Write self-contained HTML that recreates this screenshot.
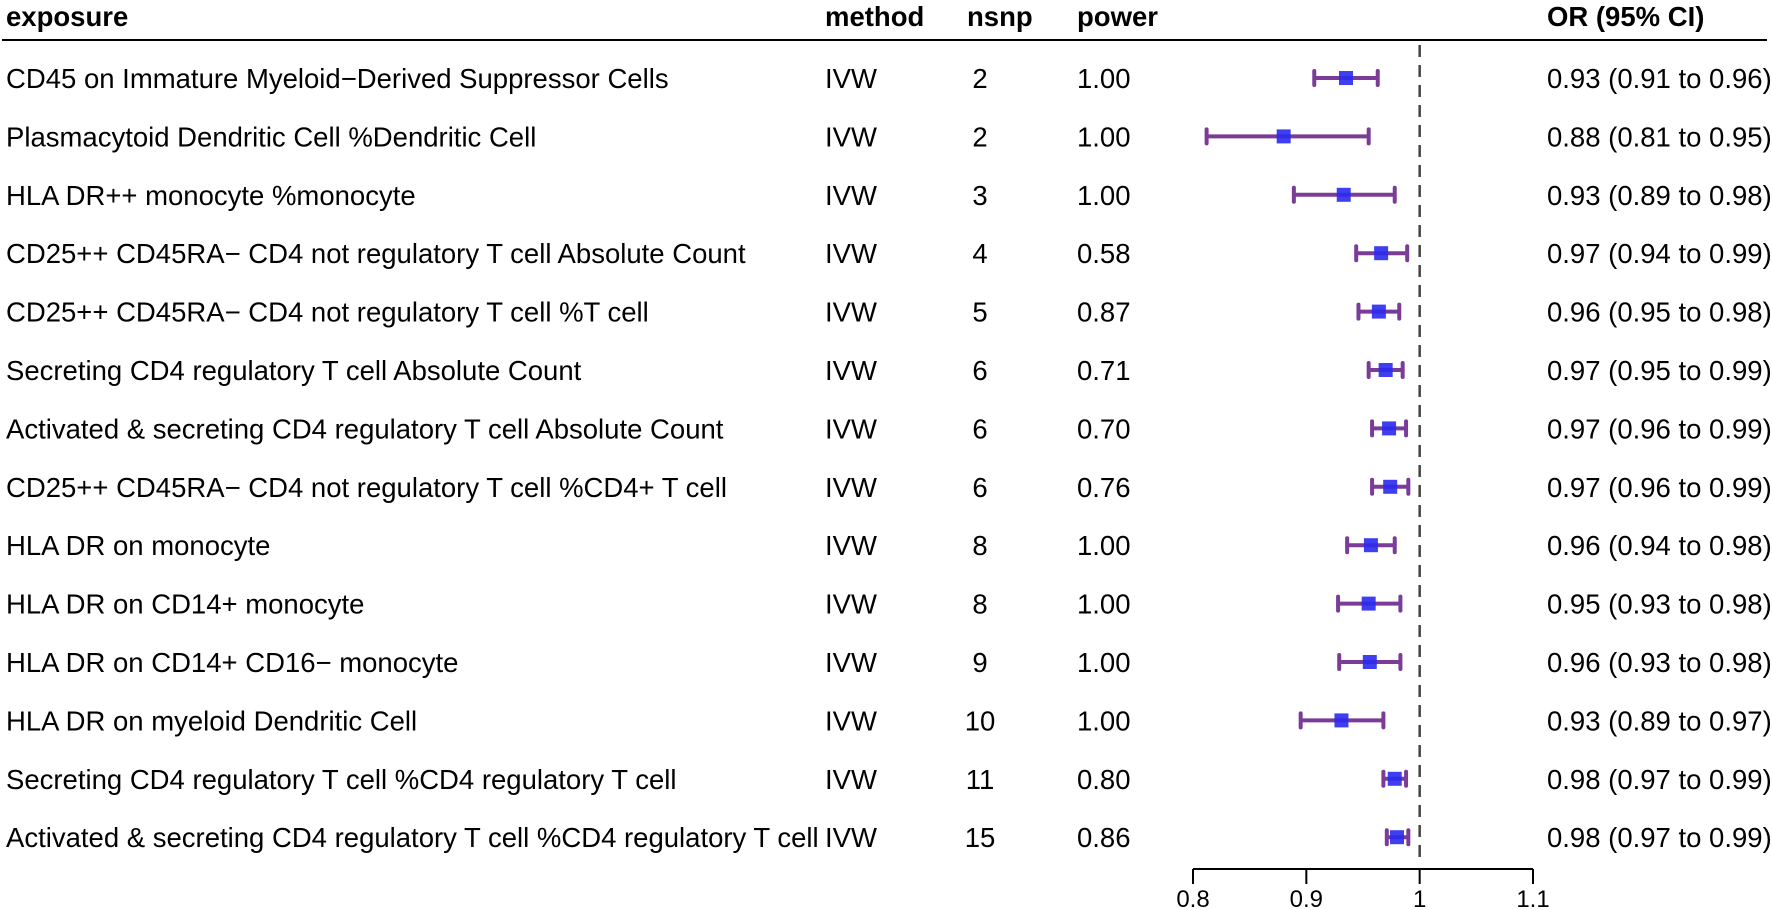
<!DOCTYPE html>
<html><head><meta charset="utf-8"><style>
body{margin:0;background:#fff;}
svg{display:block;font-family:"Liberation Sans",Arial,sans-serif;}
</style></head><body>
<svg id="chart" width="1772" height="910" viewBox="0 0 1772 910" xmlns="http://www.w3.org/2000/svg">
<g font-size="27.5" font-weight="bold" fill="#000">
<text x="6" y="26">exposure</text>
<text x="825" y="26">method</text>
<text x="967" y="26">nsnp</text>
<text x="1077" y="26">power</text>
<text x="1547" y="26">OR (95% CI)</text>
</g>
<line x1="2" y1="40" x2="1767" y2="40" stroke="#000" stroke-width="2"/>
<g id="rows"></g>
<g id="marks"></g>
<g id="axis"></g>
</svg>
<script>
const exposures=["CD45 on Immature Myeloid\u2212Derived Suppressor Cells","Plasmacytoid Dendritic Cell %Dendritic Cell","HLA DR++ monocyte %monocyte","CD25++ CD45RA\u2212 CD4 not regulatory T cell Absolute Count","CD25++ CD45RA\u2212 CD4 not regulatory T cell %T cell","Secreting CD4 regulatory T cell Absolute Count","Activated & secreting CD4 regulatory T cell Absolute Count","CD25++ CD45RA\u2212 CD4 not regulatory T cell %CD4+ T cell","HLA DR on monocyte","HLA DR on CD14+ monocyte","HLA DR on CD14+ CD16\u2212 monocyte","HLA DR on myeloid Dendritic Cell","Secreting CD4 regulatory T cell %CD4 regulatory T cell","Activated & secreting CD4 regulatory T cell %CD4 regulatory T cell"];
const nsnp=[2,2,3,4,5,6,6,6,8,8,9,10,11,15];
const power=["1.00","1.00","1.00","0.58","0.87","0.71","0.70","0.76","1.00","1.00","1.00","1.00","0.80","0.86"];
const orVal=[0.935,0.880,0.933,0.966,0.964,0.970,0.973,0.974,0.957,0.955,0.956,0.931,0.978,0.980];
const lower=[0.907,0.812,0.889,0.944,0.946,0.955,0.958,0.958,0.936,0.928,0.929,0.895,0.968,0.971];
const upper=[0.963,0.955,0.978,0.989,0.982,0.985,0.988,0.990,0.978,0.983,0.983,0.968,0.988,0.990];
const orText=["0.93 (0.91 to 0.96)","0.88 (0.81 to 0.95)","0.93 (0.89 to 0.98)","0.97 (0.94 to 0.99)","0.96 (0.95 to 0.98)","0.97 (0.95 to 0.99)","0.97 (0.96 to 0.99)","0.97 (0.96 to 0.99)","0.96 (0.94 to 0.98)","0.95 (0.93 to 0.98)","0.96 (0.93 to 0.98)","0.93 (0.89 to 0.97)","0.98 (0.97 to 0.99)","0.98 (0.97 to 0.99)"];
const ticks=[0.8,0.9,1.0,1.1];
const tickLabels=["0.8","0.9","1","1.1"];

const NS="http://www.w3.org/2000/svg";
const xs=v=>1193+(v-0.8)*(1533-1193)/0.3;
const ys=i=>78+i*58.4;
function mk(tag,attrs,parent){const e=document.createElementNS(NS,tag);for(const k in attrs)e.setAttribute(k,attrs[k]);parent.appendChild(e);return e;}
const rows=document.getElementById('rows'),marks=document.getElementById('marks'),axis=document.getElementById('axis');
const FS=27.5;
exposures.forEach((name,i)=>{
  const y=ys(i)+10;
  let t=mk('text',{x:6,y:y,'font-size':FS},rows);t.textContent=name;
  
  
  t=mk('text',{x:825,y:y,'font-size':FS},rows);t.textContent='IVW';
  
  
  t=mk('text',{x:980,y:y,'font-size':FS,'text-anchor':'middle'},rows);t.textContent=nsnp[i];
  
  
  t=mk('text',{x:1077,y:y,'font-size':FS},rows);t.textContent=power[i];
  
  
  t=mk('text',{x:1547,y:y,'font-size':FS},rows);t.textContent=orText[i];
  
  
  const cy=ys(i),x1=xs(lower[i]),x2=xs(upper[i]),cx=xs(orVal[i]);
  const g=mk('g',{},marks);
  
  
  mk('line',{x1:x1,y1:cy,x2:x2,y2:cy,stroke:'#7a3c96','stroke-width':4},g);
  mk('line',{x1:x1,y1:cy-7,x2:x1,y2:cy+7,stroke:'#7a3c96','stroke-width':4,'stroke-linecap':'round'},g);
  mk('line',{x1:x2,y1:cy-7,x2:x2,y2:cy+7,stroke:'#7a3c96','stroke-width':4,'stroke-linecap':'round'},g);
  const r=mk('rect',{x:cx-7,y:cy-7,width:14,height:14,fill:'#2a2af0','fill-opacity':0.9},g);
  
  
});
const ref=mk('line',{x1:xs(1),y1:45,x2:xs(1),y2:862,stroke:'#444','stroke-width':2.5,'stroke-dasharray':'12,8'},marks);


const al=mk('line',{x1:xs(ticks[0]),y1:869,x2:xs(ticks[ticks.length-1]),y2:869,stroke:'#000','stroke-width':2},axis);


ticks.forEach((v,i)=>{
  mk('line',{x1:xs(v),y1:869,x2:xs(v),y2:884,stroke:'#000','stroke-width':2},axis);
  const t=mk('text',{x:xs(v),y:907,'font-size':24,'text-anchor':'middle'},axis);t.textContent=tickLabels[i];
  
  
});
</script>
</body></html>
